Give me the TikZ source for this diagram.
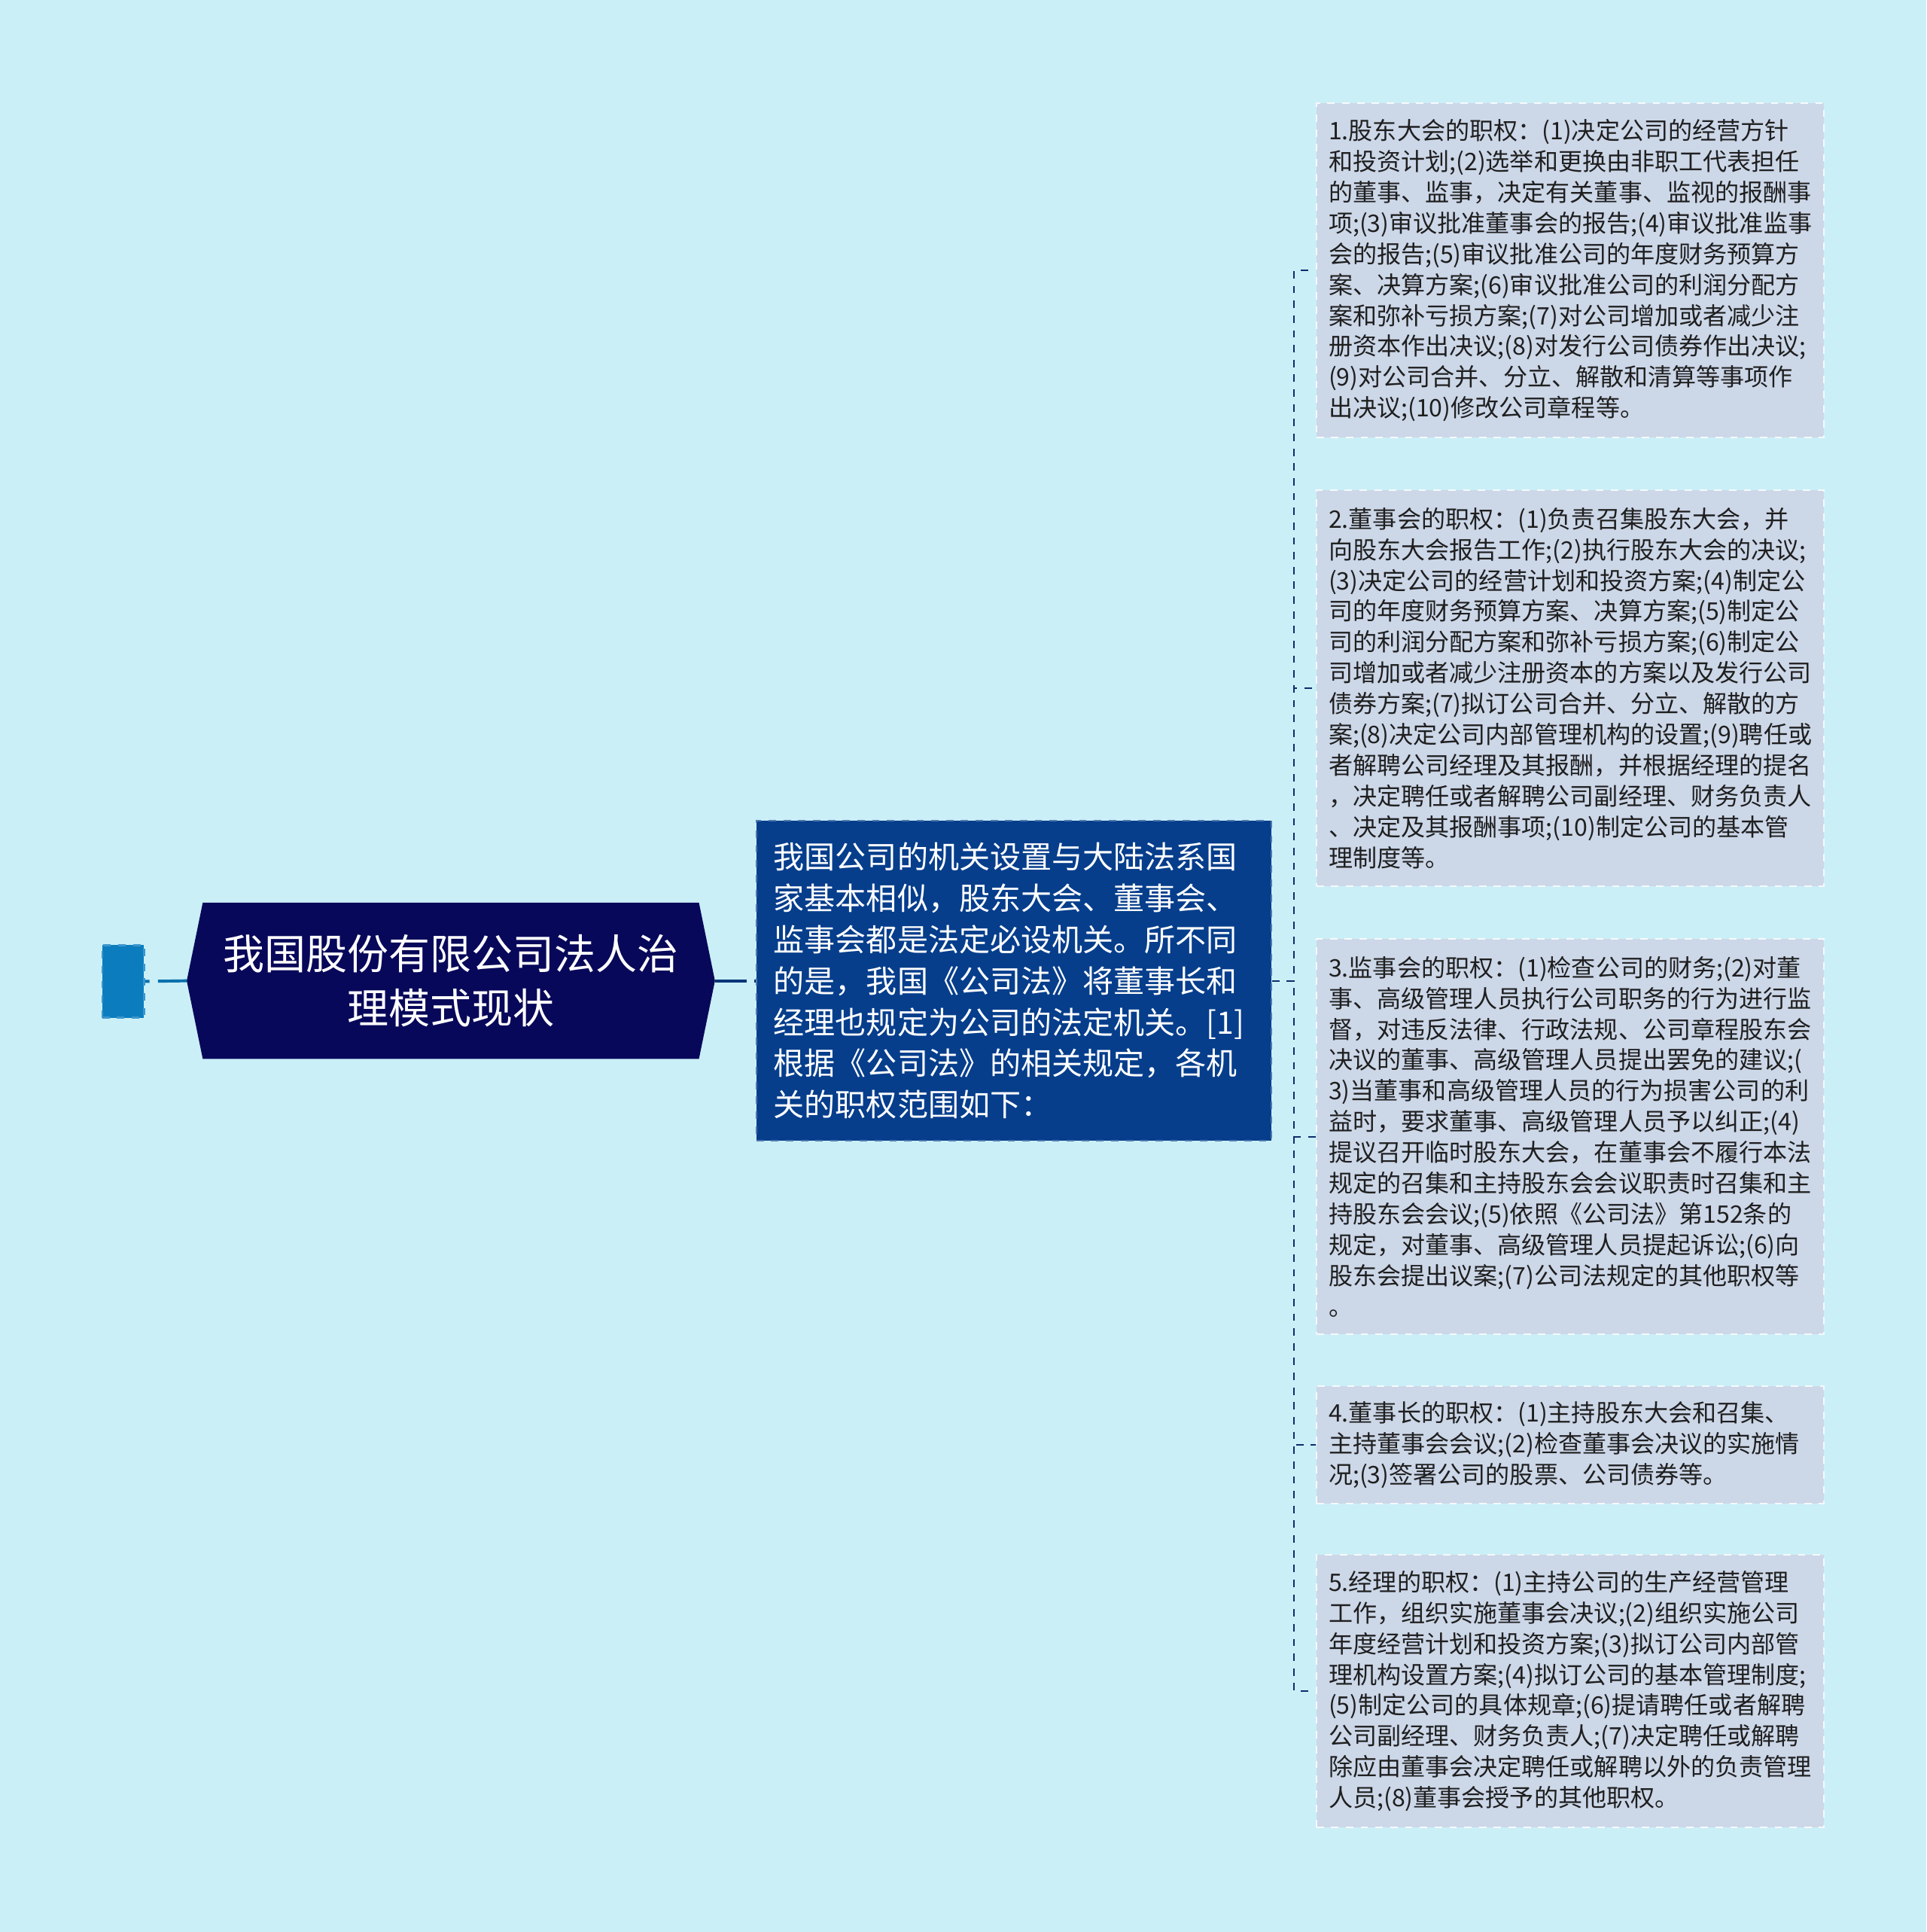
\documentclass[tikz,border=0pt]{standalone}
\usepackage{fontspec}
\setmainfont{Noto Sans CJK SC}
\usepackage{tikz}
\usetikzlibrary{positioning,calc,backgrounds}

\definecolor{pagebg}{HTML}{CAEFF7}
\definecolor{rootfill}{HTML}{08085A}
\definecolor{midfill}{HTML}{063E8C}
\definecolor{leaffill}{HTML}{CCD7E8}
\definecolor{stubfill}{HTML}{0B7DBF}
\definecolor{linkdark}{HTML}{0E2C6A}

\tikzset{
    stub/.style={rectangle, fill=stubfill, draw=stubfill!80!white, dashed, line width=0.8pt,
        minimum width=17pt, minimum height=29.5pt, inner sep=0pt},
    rootbox/.style={rectangle, minimum width=214pt, minimum height=63pt, inner sep=0pt,
        text=white, align=center, font=\fontsize{16.8pt}{22pt}\selectfont},
    midbox/.style={rectangle, fill=midfill, draw=midfill!70!white, dashed, line width=0.6pt,
        minimum width=209pt, minimum height=130pt, inner xsep=7pt, inner ysep=0pt,
        text width=195pt, align=left, text=white, font=\fontsize{12.55pt}{16.75pt}\selectfont},
    leafbox/.style={rectangle, fill=leaffill, draw=white!85!leaffill, dashed, line width=0.6pt,
        anchor=west, inner xsep=5pt, inner ysep=0pt, text width=196pt, align=left,
        text=black!88, font=\fontsize{9.8pt}{12.5pt}\selectfont},
    leafline/.style={draw=linkdark, line width=0.7pt, dash pattern=on 3pt off 3pt},
}

\begin{document}
\begin{tikzpicture}[x=0.5pt, y=-0.5pt]
    \useasboundingbox (0,0) rectangle (1564,1568);

    % left stub and root
    \node[stub] (stub) at (100,796.5) {};
    \node[rootbox] (root) at (366,796) {我国股份有限公司法人治\\理模式现状};

    % middle box
    \node[midbox] (mid) at (823,796) {我国公司的机关设置与大陆法系国\\
家基本相似，股东大会、董事会、\\
监事会都是法定必设机关。所不同\\
的是，我国《公司法》将董事长和\\
经理也规定为公司的法定机关。[1]\\
根据《公司法》的相关规定，各机\\
关的职权范围如下：};

    % leaves
    \node[leafbox, minimum height=135.5pt] (leaf1) at (1068,219.5) {1.股东大会的职权：(1)决定公司的经营方针\\
和投资计划;(2)选举和更换由非职工代表担任\\
的董事、监事，决定有关董事、监视的报酬事\\
项;(3)审议批准董事会的报告;(4)审议批准监事\\
会的报告;(5)审议批准公司的年度财务预算方\\
案、决算方案;(6)审议批准公司的利润分配方\\
案和弥补亏损方案;(7)对公司增加或者减少注\\
册资本作出决议;(8)对发行公司债券作出决议;\\
(9)对公司合并、分立、解散和清算等事项作\\
出决议;(10)修改公司章程等。};
    \node[leafbox, minimum height=160.5pt] (leaf2) at (1068,558.5) {2.董事会的职权：(1)负责召集股东大会，并\\
向股东大会报告工作;(2)执行股东大会的决议;\\
(3)决定公司的经营计划和投资方案;(4)制定公\\
司的年度财务预算方案、决算方案;(5)制定公\\
司的利润分配方案和弥补亏损方案;(6)制定公\\
司增加或者减少注册资本的方案以及发行公司\\
债券方案;(7)拟订公司合并、分立、解散的方\\
案;(8)决定公司内部管理机构的设置;(9)聘任或\\
者解聘公司经理及其报酬，并根据经理的提名\\
，决定聘任或者解聘公司副经理、财务负责人\\
、决定及其报酬事项;(10)制定公司的基本管\\
理制度等。};
    \node[leafbox, minimum height=160.5pt] (leaf3) at (1068,922.5) {3.监事会的职权：(1)检查公司的财务;(2)对董\\
事、高级管理人员执行公司职务的行为进行监\\
督，对违反法律、行政法规、公司章程股东会\\
决议的董事、高级管理人员提出罢免的建议;(\\
3)当董事和高级管理人员的行为损害公司的利\\
益时，要求董事、高级管理人员予以纠正;(4)\\
提议召开临时股东大会，在董事会不履行本法\\
规定的召集和主持股东会会议职责时召集和主\\
持股东会会议;(5)依照《公司法》第152条的\\
规定，对董事、高级管理人员提起诉讼;(6)向\\
股东会提出议案;(7)公司法规定的其他职权等\\
。};
    \node[leafbox, minimum height=47.5pt] (leaf4) at (1068,1172.5) {4.董事长的职权：(1)主持股东大会和召集、\\
主持董事会会议;(2)检查董事会决议的实施情\\
况;(3)签署公司的股票、公司债券等。};
    \node[leafbox, minimum height=110.5pt] (leaf5) at (1068,1372.5) {5.经理的职权：(1)主持公司的生产经营管理\\
工作，组织实施董事会决议;(2)组织实施公司\\
年度经营计划和投资方案;(3)拟订公司内部管\\
理机构设置方案;(4)拟订公司的基本管理制度;\\
(5)制定公司的具体规章;(6)提请聘任或者解聘\\
公司副经理、财务负责人;(7)决定聘任或解聘\\
除应由董事会决定聘任或解聘以外的负责管理\\
人员;(8)董事会授予的其他职权。};

    % background and root hexagon
    \begin{scope}[on background layer]
        \fill[pagebg] (0,0) rectangle (1564,1568);
        \fill[rootfill] (root.west) -- ([xshift=6.5pt]root.north west) -- ([xshift=-6.5pt]root.north east)
            -- (root.east) -- ([xshift=-6.5pt]root.south east) -- ([xshift=6.5pt]root.south west) -- cycle;
    \end{scope}

    % links
    \draw[stubfill!90!black, line width=1.2pt, dash pattern=on 1.8pt off 3.4pt on 20pt] (stub.east) -- (root.west);
    \draw[midfill!85!black, line width=1.2pt, dash pattern=on 13pt off 2.8pt on 20pt] (root.east) -- (mid.west);
    \foreach \leaf in {leaf1,leaf2,leaf3,leaf4,leaf5}
        \draw[leafline] (mid.east) -- ++(18,0) |- (\leaf.west);
\end{tikzpicture}
\end{document}
